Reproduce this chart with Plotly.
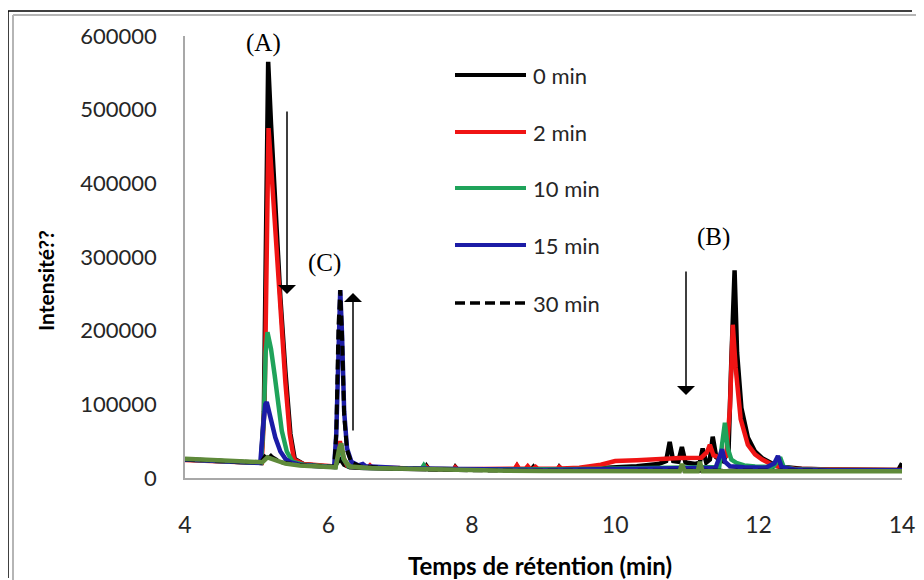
import plotly.graph_objects as go

# ---------------- data ----------------
t_0min = [4.00, 4.30, 4.60, 4.90, 5.06, 5.10, 5.13, 5.16, 5.20, 5.26, 5.33, 5.40, 5.47, 5.53, 5.65, 5.85,
          6.08, 6.13, 6.17, 6.22, 6.30, 6.50, 6.80, 7.10, 7.35, 7.37, 7.40, 7.75, 7.77, 7.80, 8.10, 8.60,
          8.63, 8.66, 8.83, 8.86, 8.89, 9.20, 9.22, 9.25, 9.60, 10.00, 10.30, 10.60, 10.71, 10.76, 10.81,
          10.88, 10.93, 10.98, 11.12, 11.18, 11.22, 11.27, 11.32, 11.36, 11.41, 11.50, 11.58, 11.62, 11.665,
          11.70, 11.76, 11.85, 11.95, 12.05, 12.20, 12.35, 12.60, 13.00, 13.50, 13.95, 14.00]
i_0min = [25000, 23500, 22000, 21000, 20500, 90000, 330000, 565000, 480000, 360000, 245000, 145000, 60000,
          26000, 19000, 16500, 15000, 22000, 25000, 18000, 14500, 13500, 13000, 12500, 12000, 16000, 12000,
          11500, 15000, 11500, 11000, 11000, 16000, 11000, 11500, 15000, 11000, 11500, 15000, 11500, 12500,
          14000, 16000, 19000, 23000, 49000, 23000, 22000, 42000, 21000, 19000, 21000, 40000, 21000, 25000,
          56000, 28000, 23000, 35000, 160000, 282000, 170000, 95000, 55000, 36000, 27000, 19000, 15000,
          12500, 11500, 11000, 11000, 20000]

t_2min = [4.00, 4.30, 4.60, 4.90, 5.07, 5.11, 5.14, 5.165, 5.20, 5.26, 5.33, 5.40, 5.46, 5.52, 5.65, 5.85,
          6.09, 6.13, 6.16, 6.20, 6.26, 6.40, 6.55, 6.58, 6.61, 6.90, 7.20, 7.35, 7.37, 7.40, 7.75, 7.77,
          7.80, 8.10, 8.40, 8.60, 8.63, 8.66, 8.75, 8.78, 8.81, 8.86, 8.89, 8.92, 9.20, 9.22, 9.25, 9.50,
          9.80, 10.00, 10.30, 10.60, 10.90, 11.20, 11.28, 11.32, 11.37, 11.45, 11.55, 11.60, 11.64, 11.68,
          11.75, 11.85, 11.95, 12.05, 12.15, 12.30, 12.50, 13.00, 13.50, 14.00]
i_2min = [24500, 23000, 22000, 21000, 20500, 100000, 330000, 475000, 425000, 330000, 225000, 130000, 60000,
          25000, 19000, 17000, 15500, 35000, 50000, 30000, 17000, 15000, 14000, 17000, 14000, 13500, 13000,
          12500, 15000, 12500, 12000, 14500, 12000, 12000, 12000, 12500, 17000, 12500, 12500, 16000, 12500,
          12500, 15000, 12500, 13000, 15000, 13000, 14000, 18000, 23000, 24000, 26000, 27000, 27500, 35000,
          45000, 31000, 28000, 30000, 95000, 208000, 150000, 80000, 45000, 32000, 25000, 20000, 14500,
          12500, 11500, 11000, 11000]

t_10min = [4.00, 4.40, 4.80, 5.06, 5.10, 5.125, 5.15, 5.20, 5.25, 5.30, 5.35, 5.42, 5.50, 5.65, 5.90, 6.10,
           6.14, 6.17, 6.21, 6.28, 6.50, 7.00, 7.30, 7.33, 7.36, 7.80, 8.30, 8.80, 9.30, 9.80, 10.30, 10.80,
           11.20, 11.45, 11.49, 11.53, 11.57, 11.62, 11.70, 11.80, 11.95, 12.20, 12.26, 12.30, 12.35, 12.50,
           13.00, 13.50, 14.00]
i_10min = [25000, 23500, 21500, 20500, 80000, 170000, 198000, 175000, 140000, 97000, 64000, 36000, 22000,
           18000, 16000, 15000, 35000, 45000, 26000, 16000, 14000, 13000, 12500, 17000, 12500, 12000, 11500,
           11500, 12000, 12500, 13000, 13500, 13500, 15000, 45000, 75000, 40000, 25000, 20000, 17000, 15500,
           15000, 22000, 28000, 15000, 12000, 11000, 10500, 10500]

t_15min = [4.00, 4.40, 4.80, 5.05, 5.09, 5.12, 5.14, 5.20, 5.26, 5.33, 5.40, 5.48, 5.60, 5.85, 6.08, 6.11,
           6.14, 6.165, 6.19, 6.22, 6.26, 6.32, 6.42, 6.48, 6.52, 6.70, 7.00, 7.50, 8.00, 8.50, 9.00, 9.50,
           10.00, 10.50, 11.00, 11.40, 11.46, 11.49, 11.53, 11.60, 11.80, 12.10, 12.22, 12.27, 12.32, 12.50,
           13.00, 13.50, 14.00]
i_15min = [25000, 23500, 21500, 20500, 70000, 100000, 103000, 80000, 55000, 36000, 26000, 21000, 18000,
           16000, 15000, 60000, 200000, 255000, 195000, 90000, 40000, 22000, 17000, 19000, 16000, 14500,
           13500, 12500, 11500, 11000, 11000, 11500, 12000, 12500, 13000, 14000, 30000, 39000, 22000, 16000,
           14500, 14000, 20000, 30000, 15000, 11500, 10500, 10500, 10500]

t_30min = [4.00, 4.40, 4.80, 5.06, 5.12, 5.16, 5.22, 5.35, 5.60, 5.90, 6.08, 6.11, 6.14, 6.165, 6.19, 6.22,
           6.26, 6.32, 6.45, 6.80, 7.30, 8.00, 8.60, 9.20, 10.00, 10.80, 11.50, 12.00, 12.50, 13.00, 13.50,
           14.00]
i_30min = [25500, 24000, 22000, 21000, 30000, 34000, 28000, 21000, 17500, 15500, 15000, 60000, 205000,
           255000, 195000, 85000, 38000, 21000, 15500, 13500, 12000, 10500, 10000, 9500, 9500, 10000, 10000,
           9500, 9500, 9500, 9500, 9500]

# unlabelled olive trace visible on the baseline
t_olive = [4.00, 4.40, 4.80, 5.08, 5.15, 5.25, 5.40, 5.60, 5.90, 6.10, 6.15, 6.18, 6.22, 6.30, 6.60, 7.00,
           7.50, 8.00, 8.50, 9.00, 9.50, 10.00, 10.50, 10.90, 10.93, 10.97, 11.15, 11.18, 11.22, 11.50,
           12.00, 12.50, 13.00, 13.50, 14.00]
i_olive = [26000, 24500, 22500, 21500, 28000, 24500, 19500, 17000, 15000, 14500, 40000, 47000, 25000,
           15500, 13500, 12500, 11500, 10500, 10000, 9500, 9000, 8500, 8500, 9000, 19000, 9000, 9000, 22000,
           9000, 9000, 9000, 9000, 9000, 9000, 9000]

series_names = ["0 min", "2 min", "10 min", "15 min", "30 min"]
x_ticks = [4, 6, 8, 10, 12, 14]
y_ticks = [0, 100000, 200000, 300000, 400000, 500000, 600000]

# ---------------- styling ----------------
colors = {"0 min": "#000000", "2 min": "#f01414", "10 min": "#1fa35a", "15 min": "#1c1ca6", "30 min": "#000000"}
dashes = {"0 min": "solid", "2 min": "solid", "10 min": "solid", "15 min": "solid", "30 min": "10px,5px"}
widths = {"0 min": 4.5, "2 min": 4.5, "10 min": 4.5, "15 min": 4.5, "30 min": 4}
data = {"0 min": (t_0min, i_0min), "2 min": (t_2min, i_2min), "10 min": (t_10min, i_10min),
        "15 min": (t_15min, i_15min), "30 min": (t_30min, i_30min)}

fig = go.Figure()
for name in series_names:
    tx, iy = data[name]
    fig.add_trace(go.Scatter(x=tx, y=iy, mode="lines", name=name, showlegend=False,
                             line=dict(color=colors[name], width=widths[name], dash=dashes[name])))
fig.add_trace(go.Scatter(x=t_olive, y=i_olive, mode="lines", showlegend=False,
                         line=dict(color="#5f8a3a", width=4.5)))

# reference pixel geometry (page body has an 8px margin, compensated here)
OFF = 8
W, H = 924 - OFF, 580 - OFF
PL, PT, PW, PH = 185, 36, 717, 442          # plot area in reference pixels
L, T = PL - OFF, PT - OFF
R, B = W - L - PW, H - T - PH


def px(xp):
    return (xp - PL) / PW


def py(yp):
    return (PT + PH - yp) / PH


shapes = []
annotations = []
# manual legend
legend_rows = [75, 132, 188, 245, 303]
for name, row in zip(series_names, legend_rows):
    shapes.append(dict(type="line", xref="paper", yref="paper", x0=px(455), x1=px(526), y0=py(row), y1=py(row),
                       line=dict(color=colors[name], width=widths[name] - 0.5, dash=dashes[name])))
    annotations.append(dict(xref="paper", yref="paper", x=px(531), y=py(row), text=name, showarrow=False,
                            xanchor="left", yanchor="middle", font=dict(family="Lato", size=22, color="#262626")))

# outer frame lines
shapes += [
    dict(type="line", xref="paper", yref="paper", x0=px(8), x1=px(912), y0=py(11), y1=py(11),
         line=dict(color="#000000", width=1.5)),
    dict(type="line", xref="paper", yref="paper", x0=px(8), x1=px(8), y0=py(11), y1=py(578),
         line=dict(color="#000000", width=1.5)),
    dict(type="line", xref="paper", yref="paper", x0=px(13), x1=px(924), y0=py(15), y1=py(15),
         line=dict(color="#b5b5b5", width=2)),
    dict(type="line", xref="paper", yref="paper", x0=px(13), x1=px(13), y0=py(15), y1=py(580),
         line=dict(color="#b5b5b5", width=2)),
]

serif = dict(family="Liberation Serif", size=25, color="#000000")
annotations += [
    dict(xref="paper", yref="paper", x=px(263), y=py(43), text="(A)", showarrow=False,
         xanchor="center", yanchor="middle", font=serif),
    dict(xref="paper", yref="paper", x=px(324), y=py(263), text="(C)", showarrow=False,
         xanchor="center", yanchor="middle", font=serif),
    dict(xref="paper", yref="paper", x=px(713), y=py(237), text="(B)", showarrow=False,
         xanchor="center", yanchor="middle", font=serif),
    # arrows
    dict(xref="paper", yref="paper", x=px(287), y=py(294), ax=0, ay=-184, axref="pixel", ayref="pixel",
         showarrow=True, arrowhead=1, arrowsize=2, arrowwidth=1.5, arrowcolor="#000000", text=""),
    dict(xref="paper", yref="paper", x=px(353), y=py(293), ax=0, ay=139, axref="pixel", ayref="pixel",
         showarrow=True, arrowhead=1, arrowsize=2, arrowwidth=1.5, arrowcolor="#000000", text=""),
    dict(xref="paper", yref="paper", x=px(686), y=py(395), ax=0, ay=-125, axref="pixel", ayref="pixel",
         showarrow=True, arrowhead=1, arrowsize=2, arrowwidth=1.5, arrowcolor="#000000", text=""),
    # axis titles
    dict(xref="paper", yref="paper", x=px(45), y=py(281), text="<b>Intensité??</b>", textangle=-90,
         showarrow=False, xanchor="center", yanchor="middle",
         font=dict(family="Lato", size=21, color="#000000")),
    dict(xref="paper", yref="paper", x=px(540), y=py(565), text="<b>Temps de rétention (min)</b>",
         showarrow=False, xanchor="center", yanchor="middle",
         font=dict(family="Lato", size=24, color="#000000")),
]

fig.update_layout(
    width=W, height=H, margin=dict(l=L, r=R, t=T, b=B, pad=0, autoexpand=False),
    paper_bgcolor="white", plot_bgcolor="white",
    shapes=shapes, annotations=annotations, showlegend=False,
    xaxis=dict(range=[4, 14], tickvals=x_ticks, showgrid=False, zeroline=False, showline=True,
               linecolor="#a8a8a8", linewidth=1.5, ticks="outside", ticklen=26, tickcolor="rgba(0,0,0,0)",
               tickfont=dict(family="Lato", size=23, color="#262626")),
    yaxis=dict(range=[0, 600000], tickvals=y_ticks, tickformat="d", showgrid=False, zeroline=False,
               showline=True, linecolor="#a8a8a8", linewidth=1.5, ticks="outside", ticklen=22,
               tickcolor="rgba(0,0,0,0)", tickfont=dict(family="Lato", size=22, color="#262626")),
)

fig.write_html("out.html")
